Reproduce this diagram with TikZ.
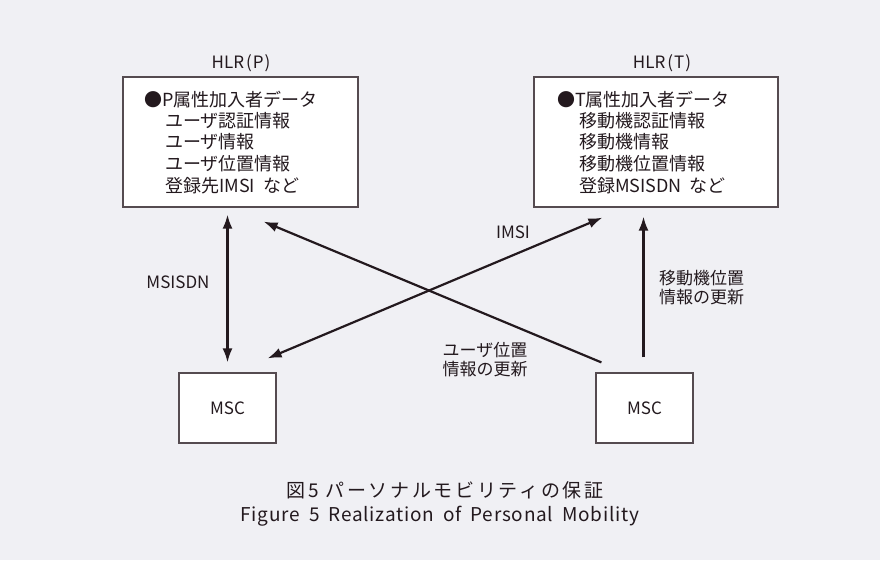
\documentclass[tikz,border=0pt]{standalone}
\usepackage{fontspec}
\setmainfont{Noto Sans CJK JP}
\newfontfamily\capfont[LetterSpace=14]{Noto Sans CJK JP}
\newfontfamily\capfontlat[LetterSpace=4,WordSpace=1.8]{Noto Sans CJK JP}
\usetikzlibrary{arrows.meta,calc}
\definecolor{bg}{RGB}{240,240,244}
\definecolor{ink}{RGB}{35,25,30}
\definecolor{frame}{RGB}{85,75,80}
\begin{document}
\begin{tikzpicture}[x=1pt,y=-1pt,
  box/.style={draw=frame, line width=1.2pt, fill=white, inner sep=0pt},
  txt/.style={text=ink, font=\fontsize{18}{21}\selectfont, inner sep=0pt},
  lab/.style={text=ink, font=\fontsize{17}{19}\selectfont, inner sep=0pt, align=center},
  arr/.style={draw=ink, line width=2.2pt, -{Latex[length=14pt,width=10pt]}},
  dbl/.style={draw=ink, line width=2.2pt, {Latex[length=14pt,width=10pt]}-{Latex[length=14pt,width=10pt]}}]
\useasboundingbox (0,0) rectangle (880,560);
\fill[bg] (0,0) rectangle (880,560);

% boxes
\node[box, minimum width=235pt, minimum height=130pt] (hlrp) at (240.5,142) {};
\node[box, minimum width=244pt, minimum height=130pt] (hlrt) at (656,142) {};
\node[box, minimum width=97pt, minimum height=70pt] (mscl) at (227.5,408) {};
\node[box, minimum width=97pt, minimum height=70pt] (mscr) at (644.5,408) {};
\node[lab] (mscltxt) at (mscl) {MSC};
\node[lab] (mscrtxt) at (mscr) {MSC};

% titles
\node[lab] (hlrplab) at (241,63) {HLR\kern2pt(\kern1pt P\kern1pt)};
\node[lab] (hlrtlab) at (662,63) {HLR\kern2pt(\kern1pt T\kern1pt)};

% HLR(P) contents
\node[txt, anchor=west] (p1) at (144,99.5) {●P属性加入者データ};
\node[txt, anchor=west] (p2) at (165,120.5) {ユーザ認証情報};
\node[txt, anchor=west] (p3) at (165,142) {ユーザ情報};
\node[txt, anchor=west] (p4) at (165,163.5) {ユーザ位置情報};
\node[txt, anchor=west] (p5) at (165,185.5) {登録先IMSI\hspace{8pt}など};

% HLR(T) contents
\node[txt, anchor=west] (t1) at (557,99.5) {●T属性加入者データ};
\node[txt, anchor=west] (t2) at (579,120.5) {移動機認証情報};
\node[txt, anchor=west] (t3) at (579,142) {移動機情報};
\node[txt, anchor=west] (t4) at (579,163.5) {移動機位置情報};
\node[txt, anchor=west] (t5) at (579,185.5) {登録MSISDN\hspace{8pt}など};

% connectors
\draw[dbl] ($(mscl.north |- hlrp.south)+(0,7)$) -- ($(mscl.north)+(0,-10)$);
\draw[arr] ($(mscr.north)+(-1,-15)$) -- ($(mscr.north |- hlrt.south)+(-1,9)$);
\draw[arr] ($(mscr.north west)+(6,-10)$) -- ($(hlrp.south east)+(-95,14)$);
\draw[dbl] ($(mscl.north east)+(-9,-14)$) -- ($(hlrt.south west)+(69,10)$);

% connector labels
\node[lab] (lmsisdn) at (178,282) {MSISDN};
\node[lab] (limsi) at (513,232) {IMSI};
\node[lab] (luser) at (485,360) {ユーザ位置\\情報の更新};
\node[lab] (lmob) at (701.5,287.5) {移動機位置\\情報の更新};

% caption
\node[text=ink, inner sep=0pt, font=\fontsize{19}{22}\capfont] (capjp) at (445,490) {図5 パーソナルモビリティの保証};
\node[text=ink, inner sep=0pt, font=\fontsize{19}{22}\capfontlat] (capen) at (440,516) {Figure 5 Realization of Personal Mobility};
\end{tikzpicture}
\end{document}
